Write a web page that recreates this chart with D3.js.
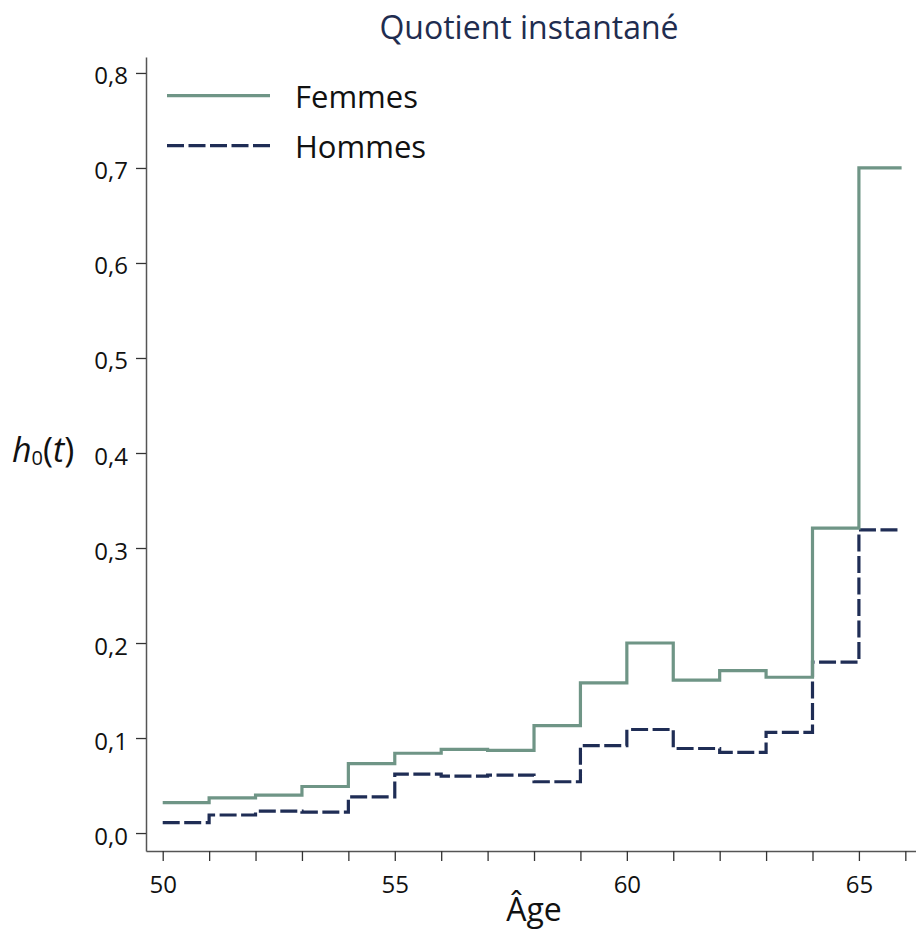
<!DOCTYPE html>
<html><head><meta charset="utf-8">
<script src="https://cdn.jsdelivr.net/npm/d3@7"></script>
<style>body{margin:0;background:#fff}svg{display:block}</style>
</head><body>
<div id="chart"></div>
<script>
const ages = [50,51,52,53,54,55,56,57,58,59,60,61,62,63,64,65];
const femmes = [0.032,0.037,0.040,0.049,0.073,0.084,0.088,0.087,0.113,0.158,0.200,0.161,0.171,0.164,0.321,0.700];
const hommes = [0.011,0.019,0.023,0.022,0.038,0.062,0.060,0.061,0.054,0.092,0.109,0.089,0.085,0.106,0.180,0.319];
const endAge = 66;
const xTicks = [50,51,52,53,54,55,56,57,58,59,60,61,62,63,64,65,66];
const xTickLabels = {50:"50",55:"55",60:"60",65:"65"};
const yTicks = [0,0.1,0.2,0.3,0.4,0.5,0.6,0.7,0.8];
const seriesNames = ["Femmes","Hommes"];

const W = 916, H = 933;
const font = "'Open Sans', sans-serif";
const svg = d3.select("#chart").append("svg").attr("width", W).attr("height", H);

const x = d3.scaleLinear().domain([49.64, 66.23]).range([146, 916]);
const y = d3.scaleLinear().domain([-0.0189, 0.8168]).range([851, 57]);

const axisColor = "#555";
// X axis
const xAxis = svg.append("g").attr("transform", "translate(0,851)")
  .call(d3.axisBottom(x).tickValues(xTicks).tickSize(10).tickSizeOuter(0)
    .tickFormat(d => xTickLabels[d] || ""));
xAxis.select(".domain").attr("stroke", axisColor).attr("stroke-width", 1.5);
xAxis.selectAll(".tick line").attr("stroke", "#333").attr("stroke-width", 1.3);
xAxis.selectAll(".tick text").attr("font-family", font).attr("font-size", 24)
  .attr("fill", "#111").attr("y", 0).attr("dy", 0)
  .attr("transform", "translate(0,42)");

// Y axis
const fmt = d => d3.format(".1f")(d).replace(".", ",");
const yAxis = svg.append("g").attr("transform", "translate(146,0)")
  .call(d3.axisLeft(y).tickValues(yTicks).tickSize(10).tickSizeOuter(0).tickFormat(fmt));
yAxis.select(".domain").attr("stroke", axisColor).attr("stroke-width", 1.5);
yAxis.selectAll(".tick text").attr("font-family", font).attr("font-size", 24)
  .attr("fill", "#111").attr("x", -18).attr("dy", 0).attr("transform", "translate(0,11)");
yAxis.selectAll(".tick line").attr("stroke", "#333").attr("stroke-width", 1.3);

// lines
const line = d3.line().x(d => x(d[0])).y(d => y(d[1])).curve(d3.curveStepAfter);
function pts(vals){ const p = ages.map((a,i)=>[a, vals[i]]); p.push([endAge - 0.08, vals[vals.length-1]]); return p; }

const femColor = "#6f9586", homColor = "#1f2d55";
svg.append("path").datum(pts(hommes)).attr("d", line)
  .attr("fill","none").attr("stroke", homColor).attr("stroke-width", 3.2)
  .attr("stroke-dasharray", "17,4.5");
svg.append("path").datum(pts(femmes)).attr("d", line)
  .attr("fill","none").attr("stroke", femColor).attr("stroke-width", 3.2);

// Title
svg.append("text").attr("x", 529).attr("y", 39).attr("text-anchor","middle")
  .attr("font-family", font).attr("font-size", 32).attr("fill", "#1f2d50")
  .text("Quotient instantané");

// Legend
const leg = [[seriesNames[0], femColor, null, 95.7, 108],[seriesNames[1], homColor, "17,4.5", 145.7, 158]];
leg.forEach(l => {
  svg.append("line").attr("x1",167).attr("x2",270).attr("y1",l[3]).attr("y2",l[3])
    .attr("stroke", l[1]).attr("stroke-width", 3.2).attr("stroke-dasharray", l[2]);
  svg.append("text").attr("x",295).attr("y",l[4]).attr("font-family",font)
    .attr("font-size",31).attr("fill","#111").text(l[0]);
});

// Y label
const yl = svg.append("text").attr("x", 12).attr("y", 462).attr("font-family", font)
  .attr("font-size", 34).attr("fill","#111");
yl.append("tspan").attr("font-style","italic").text("h");
yl.append("tspan").attr("font-size",20).attr("dy",3).text("0");
yl.append("tspan").attr("dy",-3).text("(");
yl.append("tspan").attr("font-style","italic").text("t");
yl.append("tspan").text(")");

// X label
svg.append("text").attr("x", 534).attr("y", 921).attr("text-anchor","middle")
  .attr("font-family", font).attr("font-size", 32).attr("fill","#111").text("Âge");
</script>
</body></html>
